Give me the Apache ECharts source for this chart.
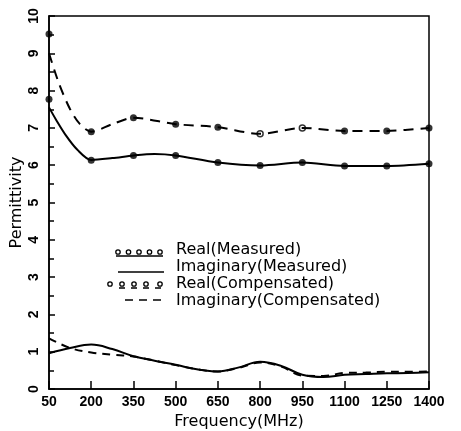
<!DOCTYPE html>
<html>
<head>
<meta charset="utf-8">
<script src="https://cdn.jsdelivr.net/npm/echarts@6/dist/echarts.min.js"></script>
<style>
  html, body { margin: 0; padding: 0; background: #fff; }
  #chart { width: 461px; height: 431px; }
</style>
</head>
<body>
<div id="chart"></div>
<script>
// frequency ticks (MHz)
const freqTicks = [50, 200, 350, 500, 650, 800, 950, 1100, 1250, 1400]

// Real part, measured (solid) - curve + points
const realMeasCurveX = [50, 75, 110, 150, 200, 275, 350, 425, 500, 650, 800, 950, 1100, 1250, 1400]
const realMeasCurveY = [7.55, 7.22, 6.8, 6.42, 6.14, 6.19, 6.26, 6.3, 6.26, 6.07, 5.99, 6.07, 5.98, 5.98, 6.04]
const realMeasPtsY = [7.77, 6.13, 6.26, 6.26, 6.07, 5.99, 6.07, 5.98, 5.98, 6.04]

// Real part, compensated (dashed) - curve + points
const realCompCurveX = [50, 85, 125, 160, 200, 275, 350, 500, 650, 800, 950, 1100, 1250, 1400]
const realCompCurveY = [9.0, 8.2, 7.5, 7.1, 6.9, 7.1, 7.27, 7.1, 7.02, 6.84, 7.0, 6.92, 6.92, 7.0]
const realCompPtsY = [9.52, 6.9, 7.27, 7.1, 7.02, 6.84, 7.0, 6.92, 6.92, 7.0]
const realCompOpen = [800, 950]

// Imaginary parts
const imagX = [50, 125, 200, 275, 350, 425, 500, 575, 650, 725, 800, 875, 950, 1025, 1100, 1175, 1250, 1325, 1400]
const imagMeas = [0.96, 1.1, 1.19, 1.07, 0.88, 0.76, 0.65, 0.53, 0.47, 0.58, 0.73, 0.62, 0.38, 0.32, 0.38, 0.4, 0.42, 0.43, 0.45]
const imagComp = [1.36, 1.1, 0.98, 0.92, 0.87, 0.76, 0.64, 0.53, 0.47, 0.57, 0.71, 0.6, 0.36, 0.35, 0.43, 0.44, 0.46, 0.46, 0.47]

const legendNames = ['Real(Measured)', 'Imaginary(Measured)', 'Real(Compensated)', 'Imaginary(Compensated)']

const pair = (xs, ys) => xs.map((x, i) => [x, ys[i]])

const chart = echarts.init(document.getElementById('chart'))

// legend drawn by hand (icons like the original)
const legendGraphics = []
const rowY = [251, 268, 285, 302]
legendNames.forEach((name, i) => {
  legendGraphics.push({
    type: 'text', left: 176, top: rowY[i] - 9,
    style: { text: name, font: '16px "DejaVu Sans"', fill: '#000' }
  })
})
// row 1: circles with solid underline
;[118, 128.5, 139, 149.5, 160].forEach((cx) => {
  legendGraphics.push({ type: 'circle', shape: { cx: cx, cy: 252, r: 2.2 }, style: { fill: '#fff', stroke: '#000', lineWidth: 1.3 } })
})
legendGraphics.push({ type: 'line', shape: { x1: 116, y1: 256, x2: 163, y2: 256 }, style: { stroke: '#000', lineWidth: 1.5 } })
// row 2: solid line
legendGraphics.push({ type: 'line', shape: { x1: 118, y1: 272, x2: 164, y2: 272 }, style: { stroke: '#000', lineWidth: 1.6 } })
// row 3: circles with dashed underline
;[110, 122, 134, 146, 160].forEach((cx) => {
  legendGraphics.push({ type: 'circle', shape: { cx: cx, cy: 284, r: 2.2 }, style: { fill: '#fff', stroke: '#000', lineWidth: 1.3 } })
})
legendGraphics.push({ type: 'line', shape: { x1: 119, y1: 288, x2: 163, y2: 288 }, style: { stroke: '#000', lineWidth: 1.5, lineDash: [6, 6] } })
// row 4: dashed line
legendGraphics.push({ type: 'line', shape: { x1: 125, y1: 300, x2: 164, y2: 300 }, style: { stroke: '#000', lineWidth: 1.6, lineDash: [8, 6] } })

const option = {
  animation: false,
  backgroundColor: '#fff',
  grid: {
    left: 49, right: 32, top: 16, bottom: 42,
    outerBoundsMode: 'none', containLabel: false,
    show: true, borderColor: '#000', borderWidth: 1.5
  },
  xAxis: {
    type: 'value',
    min: 50, max: 1400, interval: 150,
    name: 'Frequency(MHz)',
    nameLocation: 'middle',
    nameGap: 20,
    nameTextStyle: { fontFamily: 'DejaVu Sans', fontSize: 16, color: '#000' },
    axisLine: { lineStyle: { color: '#000', width: 1.5 } },
    axisTick: { inside: true, length: 8, lineStyle: { color: '#000', width: 1.5 } },
    axisLabel: { color: '#000', fontFamily: 'Liberation Sans', fontWeight: 'bold', fontSize: 14, margin: 6,
      formatter: (v) => freqTicks.includes(v) ? String(v) : '' },
    splitLine: { show: false }
  },
  yAxis: {
    type: 'value',
    min: 0, max: 10, interval: 1,
    name: 'Permittivity',
    nameLocation: 'middle',
    nameMoveOverlap: false,
    nameGap: 24,
    nameTextStyle: { fontFamily: 'DejaVu Sans', fontSize: 16, color: '#000' },
    axisLine: { lineStyle: { color: '#000', width: 1.5 } },
    axisTick: { inside: true, length: 6, lineStyle: { color: '#000', width: 1.5 } },
    minorTick: { show: true, splitNumber: 2, length: 5, lineStyle: { color: '#000', width: 1.5 } },
    axisLabel: { color: '#000', fontFamily: 'Liberation Sans', fontWeight: 'bold', fontSize: 14, rotate: 90, margin: 8 },
    splitLine: { show: false }
  },
  graphic: legendGraphics,
  series: [
    {
      name: 'Real(Measured)', type: 'line', smooth: 0.3, showSymbol: false,
      data: pair(realMeasCurveX, realMeasCurveY),
      lineStyle: { color: '#000', width: 2 }
    },
    {
      name: 'Real(Measured) pts', type: 'scatter', symbolSize: 7,
      data: pair(freqTicks, realMeasPtsY),
      itemStyle: { color: '#000' }
    },
    {
      name: 'Real(Compensated)', type: 'line', smooth: 0.3, showSymbol: false,
      data: pair(realCompCurveX, realCompCurveY),
      lineStyle: { color: '#000', width: 2, type: [10, 7] }
    },
    {
      name: 'Real(Compensated) pts', type: 'scatter',
      data: freqTicks.map((f, i) => {
        const open = realCompOpen.includes(f)
        return {
          value: [f, realCompPtsY[i]],
          symbolSize: open ? 6 : 7,
          itemStyle: open ? { color: '#fff', borderColor: '#000', borderWidth: 1.5 } : { color: '#000' }
        }
      })
    },
    {
      name: 'Imaginary(Measured)', type: 'line', smooth: 0.4, showSymbol: false,
      data: pair(imagX, imagMeas),
      lineStyle: { color: '#000', width: 2 }
    },
    {
      name: 'Imaginary(Compensated)', type: 'line', smooth: 0.4, showSymbol: false,
      data: pair(imagX, imagComp),
      lineStyle: { color: '#000', width: 2, type: [8, 6] }
    }
  ]
}

chart.setOption(option)
</script>
</body>
</html>
